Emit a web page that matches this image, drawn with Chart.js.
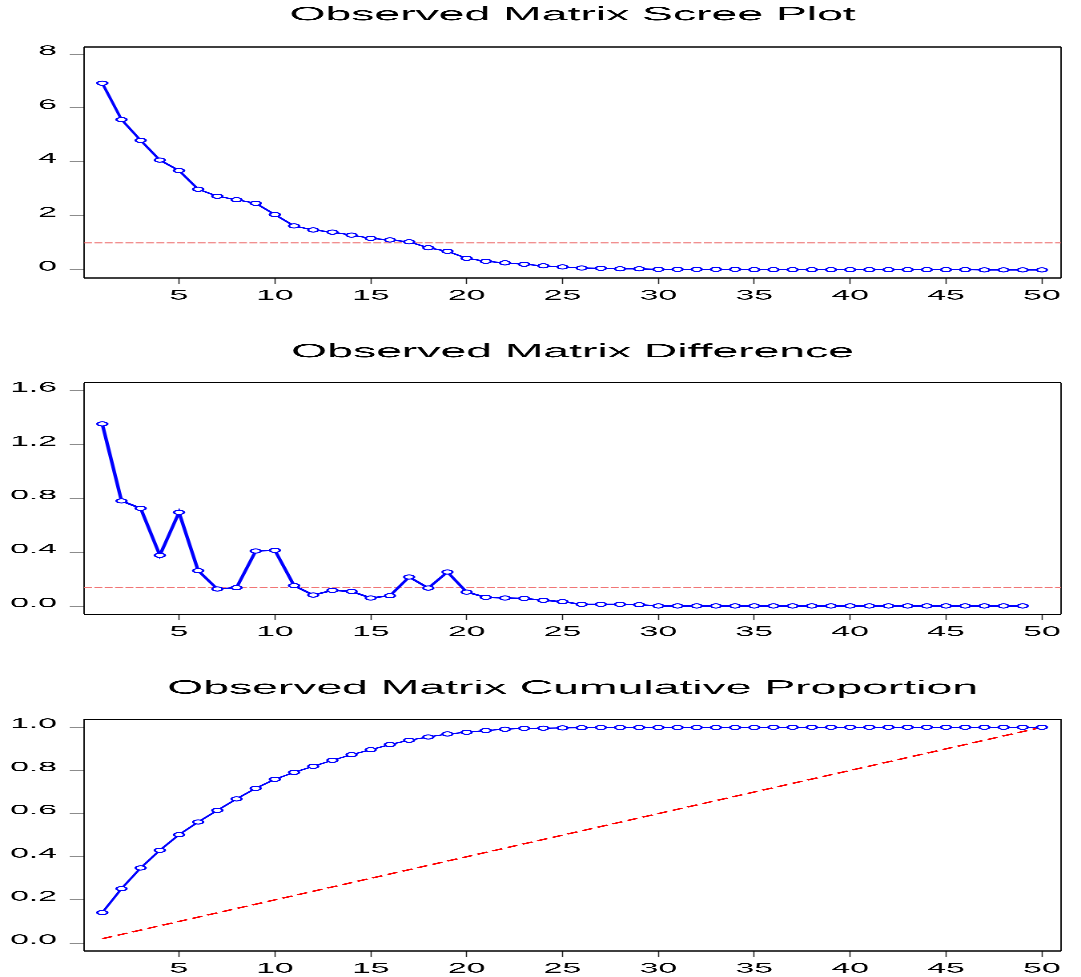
<!DOCTYPE html>
<html>
<head>
<meta charset="utf-8">
<title>Observed Matrix</title>
<script src="https://cdn.jsdelivr.net/npm/chart.js@4.4.1/dist/chart.umd.min.js"></script>
<style>
  html, body { margin: 0; padding: 0; background: #fff; }
  body { width: 1081px; height: 977px; position: relative; overflow: hidden; }
  /* the reference is a horizontally stretched graph: draw narrow, then stretch */
  .panel { position: absolute; left: 0; width: 450px; transform: scaleX(2.40222); transform-origin: 0 0; }
</style>
</head>
<body>
<div class="panel" style="top:0px;height:330px"><canvas id="grafica-scree" width="450" height="330"></canvas></div>
<div class="panel" style="top:330px;height:340px"><canvas id="grafica-diferencia" width="450" height="340"></canvas></div>
<div class="panel" style="top:670px;height:307px"><canvas id="grafica-acumulada" width="450" height="307"></canvas></div>

<script>
// --- Datos ---
const componentes = [1, 2, 3, 4, 5, 6, 7, 8, 9, 10,
  11, 12, 13, 14, 15, 16, 17, 18, 19, 20,
  21, 22, 23, 24, 25, 26, 27, 28, 29, 30,
  31, 32, 33, 34, 35, 36, 37, 38, 39, 40,
  41, 42, 43, 44, 45, 46, 47, 48, 49, 50];

const valoresPropios = [6.92, 5.57, 4.80, 4.07, 3.68, 2.99, 2.73, 2.60, 2.47, 2.05,
  1.63, 1.48, 1.40, 1.29, 1.17, 1.11, 1.04, 0.82, 0.69, 0.43,
  0.32, 0.26, 0.21, 0.15, 0.11, 0.07, 0.06, 0.04, 0.04, 0.02,
  0.02, 0.02, 0.02, 0.02, 0.01, 0.01, 0.01, 0.01, 0.01, 0.01,
  0.01, 0.01, 0.01, 0.01, 0.01, 0.01, 0.00, 0.00, 0.00, 0.00];

const diferencias = [1.355, 0.783, 0.728, 0.379, 0.698, 0.265, 0.129, 0.139, 0.411, 0.416,
  0.154, 0.084, 0.119, 0.111, 0.062, 0.079, 0.218, 0.136, 0.255, 0.106,
  0.067, 0.062, 0.059, 0.045, 0.035, 0.015, 0.015, 0.015, 0.012, 0.003,
  0.003, 0.003, 0.003, 0.003, 0.003, 0.003, 0.003, 0.003, 0.003, 0.003,
  0.003, 0.003, 0.003, 0.003, 0.003, 0.003, 0.003, 0.003, 0.003];

const acumulada = [0.141, 0.252, 0.348, 0.430, 0.502, 0.561, 0.615, 0.668, 0.717, 0.759,
  0.791, 0.819, 0.847, 0.873, 0.896, 0.920, 0.940, 0.955, 0.969, 0.977,
  0.985, 0.991, 0.995, 0.996, 0.997, 0.998, 0.999, 0.999, 0.999, 0.999,
  0.999, 0.999, 0.999, 0.999, 0.999, 1.000, 1.000, 1.000, 1.000, 1.000,
  1.000, 1.000, 1.000, 1.000, 1.000, 1.000, 1.000, 1.000, 1.000, 1.000];

// líneas de referencia
const mediaValoresPropios = 1.0;
const mediaDiferencias = 0.141;
const diagonalX = [1, 50];
const diagonalY = [0.02, 1.0];

// ticks
const ticksX = [5, 10, 15, 20, 25, 30, 35, 40, 45, 50];
const ticksScree = [0, 2, 4, 6, 8];
const ticksDiferencia = [0.0, 0.4, 0.8, 1.2, 1.6];
const ticksAcumulada = [0.0, 0.2, 0.4, 0.6, 0.8, 1.0];

// rango de ejes
const xMin = 0.05, xMax = 51;

const fuente = "'Liberation Sans', Arial, sans-serif";
const azul = '#0000ff';

// --- Marco negro alrededor del área de la gráfica ---
const marcoPlugin = {
  id: 'marco',
  beforeDatasetsDraw(chart) {
    const { ctx, chartArea: a } = chart;
    ctx.save();
    ctx.strokeStyle = '#000';
    ctx.lineWidth = 1.2;
    ctx.beginPath();
    ctx.moveTo(a.left, a.top); ctx.lineTo(a.right, a.top);
    ctx.moveTo(a.left, a.bottom); ctx.lineTo(a.right, a.bottom);
    ctx.stroke();
    ctx.lineWidth = 0.6; // los lados verticales se estiran
    ctx.beginPath();
    ctx.moveTo(a.left, a.top); ctx.lineTo(a.left, a.bottom);
    ctx.moveTo(a.right, a.top); ctx.lineTo(a.right, a.bottom);
    ctx.stroke();
    ctx.restore();
  }
};

function serieAzul(xs, ys, ancho) {
  return {
    data: xs.map((x, i) => ({ x: x, y: ys[i] })),
    borderColor: azul,
    borderWidth: ancho,
    pointRadius: 2.1,
    pointBorderWidth: 1,
    pointBackgroundColor: '#fff',
    pointBorderColor: azul,
    tension: 0
  };
}

function serieDiscontinua(xs, ys, color, ancho, trazo) {
  return {
    data: xs.map((x, i) => ({ x: x, y: ys[i] })),
    borderColor: color,
    borderWidth: ancho,
    borderDash: trazo,
    pointRadius: 0,
    tension: 0
  };
}

// --- Función que dibuja un panel ---
function crearPanel(id, cfg) {
  const alto = cfg.alto;
  const lineH = 19.3 * 1.2;
  return new Chart(document.getElementById(id), {
    type: 'line',
    data: { datasets: cfg.datasets },
    plugins: [marcoPlugin],
    options: {
      responsive: false,
      animation: false,
      devicePixelRatio: 3,
      layout: { padding: { left: 0, right: 8.3, top: 0, bottom: 0 } },
      plugins: {
        legend: { display: false },
        tooltip: { enabled: false },
        title: {
          display: true,
          text: cfg.titulo,
          fullSize: false,
          color: '#000',
          font: { family: fuente, size: 19.3, weight: 'normal', lineHeight: 1.2 },
          padding: { top: cfg.centroTitulo - lineH / 2, bottom: cfg.topeCaja - cfg.centroTitulo - lineH / 2 }
        }
      },
      scales: {
        x: {
          type: 'linear',
          min: xMin,
          max: xMax,
          afterFit: s => { s.height = alto - cfg.baseCaja; },
          afterBuildTicks: s => { s.ticks = ticksX.map(v => ({ value: v })); },
          ticks: { font: { family: fuente, size: 14 }, color: '#000', padding: 3.5, maxRotation: 0, autoSkip: false },
          grid: { drawOnChartArea: false, tickLength: 6, tickColor: '#222', tickWidth: 0.5 },
          border: { display: false }
        },
        y: {
          type: 'linear',
          min: cfg.yMin,
          max: cfg.yMax,
          afterFit: s => { s.width = 35; },
          afterBuildTicks: s => { s.ticks = cfg.ticksY.map(v => ({ value: v })); },
          ticks: {
            font: { family: fuente, size: 14 }, color: '#000', padding: 5.3, labelOffset: -3, autoSkip: false,
            callback: v => v.toFixed(cfg.decimales)
          },
          grid: { drawOnChartArea: false, tickLength: 6, tickColor: '#8c8c8c', tickWidth: 1 },
          border: { display: false }
        }
      }
    }
  });
}

document.addEventListener('DOMContentLoaded', () => {
  crearPanel('grafica-scree', {
    titulo: 'Observed Matrix Scree Plot',
    alto: 330, centroTitulo: 15, topeCaja: 47, baseCaja: 278,
    yMin: -0.3, yMax: 8.26, ticksY: ticksScree, decimales: 0,
    datasets: [
      serieAzul(componentes, valoresPropios, 1.3),
      serieDiscontinua([xMin, xMax], [mediaValoresPropios, mediaValoresPropios], 'rgba(235,90,90,0.9)', 1, [3.3, 1])
    ]
  });

  crearPanel('grafica-diferencia', {
    titulo: 'Observed Matrix Difference',
    alto: 340, centroTitulo: 22, topeCaja: 52.7, baseCaja: 284.3,
    yMin: -0.059, yMax: 1.661, ticksY: ticksDiferencia, decimales: 1,
    datasets: [
      serieAzul(componentes.slice(0, diferencias.length), diferencias, 1.5),
      serieDiscontinua([xMin, xMax], [mediaDiferencias, mediaDiferencias], 'rgba(240,110,110,0.95)', 1, [3.3, 1])
    ]
  });

  crearPanel('grafica-acumulada', {
    titulo: 'Observed Matrix Cumulative Proportion',
    alto: 307, centroTitulo: 18.3, topeCaja: 49.3, baseCaja: 281,
    yMin: -0.037, yMax: 1.037, ticksY: ticksAcumulada, decimales: 1,
    datasets: [
      serieAzul(componentes, acumulada, 1.2),
      serieDiscontinua(diagonalX, diagonalY, '#ff0000', 1.4, [4.7, 2.4])
    ]
  });
});
</script>
</body>
</html>
